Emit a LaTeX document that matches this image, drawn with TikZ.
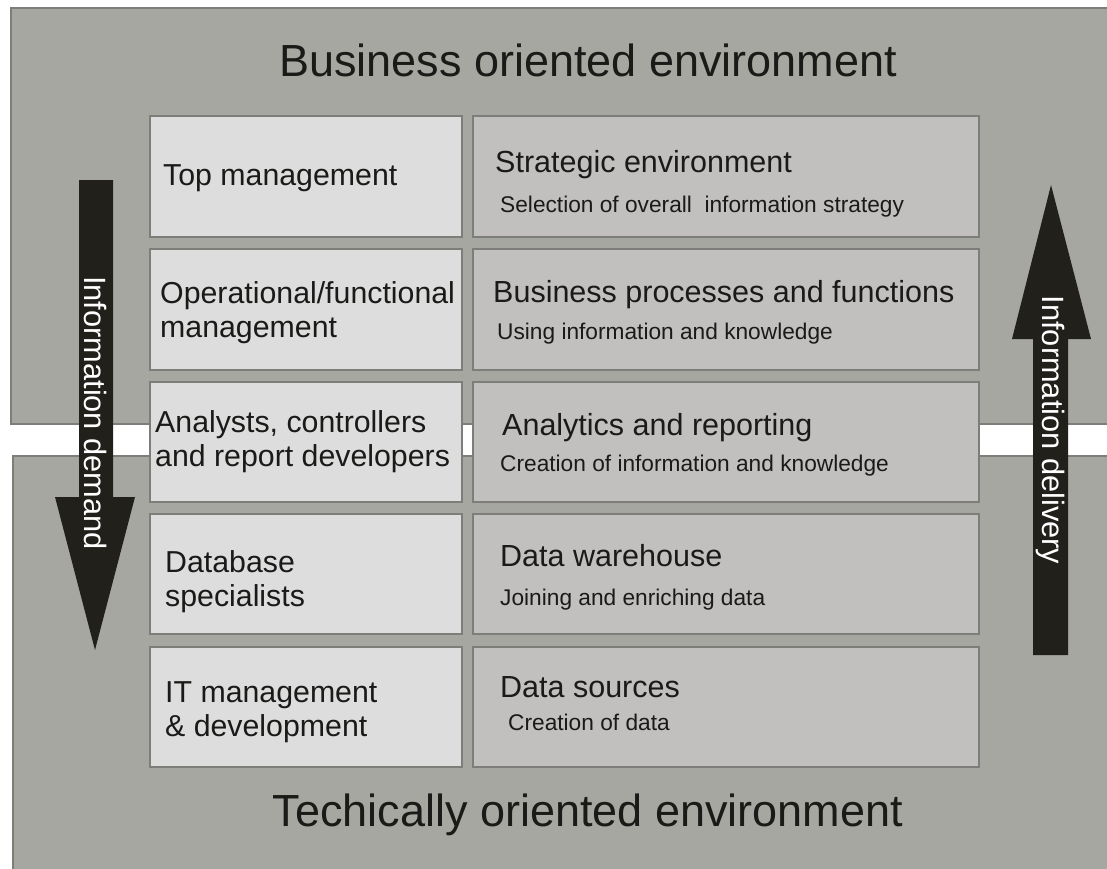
\documentclass[tikz,border=0pt]{standalone}
\usepackage{fontspec}
\setmainfont{Liberation Sans}
\definecolor{panelgrey}{RGB}{167,167,161}
\definecolor{leftbox}{RGB}{220,221,220}
\definecolor{rightbox}{RGB}{194,191,191}
\definecolor{arrowdark}{RGB}{34,32,26}
\definecolor{edgegrey}{RGB}{125,125,122}
\definecolor{textdark}{RGB}{26,26,24}
\tikzset{
  panel/.style={fill=panelgrey, draw=edgegrey, line width=1.2pt},
  lbox/.style={fill=leftbox, draw=edgegrey, line width=1.2pt},
  rbox/.style={fill=rightbox, draw=edgegrey, line width=1.2pt},
  bigarrow/.style={fill=arrowdark, draw=none},
  titletext/.style={font=\fontsize{45}{50}\selectfont, text=textdark, inner sep=0pt},
  roletext/.style={font=\fontsize{30.3}{34}\selectfont, text=textdark, align=left, anchor=base west, inner sep=0pt},
  headtext/.style={font=\fontsize{30.5}{34}\selectfont, text=textdark, anchor=base west, inner sep=0pt},
  subtext/.style={font=\fontsize{22.7}{26}\selectfont, text=textdark, anchor=base west, inner sep=0pt},
  arrowtext/.style={font=\fontsize{30.8}{34}\selectfont, text=white, rotate=-90, inner sep=0pt},
}
\begin{document}
\begin{tikzpicture}[x=1pt,y=-1pt]
\useasboundingbox (0,0) rectangle (1107,868);
% panels
\fill[white] (0,0) rectangle (1107,868);
\draw[panel] (11,8) rectangle (1120,424);
\draw[panel] (13,456) rectangle (1120,880);
% titles
\node[titletext, anchor=base] (toptitle) at (588,76) {Business oriented environment};
\node[titletext, anchor=base] (bottitle) at (588,826) {Techically oriented environment};
% arrows
\draw[bigarrow] (79,180) -- (113,180) -- (113,497) -- (135,497) -- (95,650) -- (55,497) -- (79,497) -- cycle;
\draw[bigarrow] (1033,655) -- (1068,655) -- (1068,339) -- (1091,339) -- (1051,185) -- (1012,339) -- (1033,339) -- cycle;
\node[arrowtext] (demand) at (96,413) {Information demand};
\node[arrowtext] (delivery) at (1050,430) {Information delivery};
% boxes
\draw[lbox] (150,116) rectangle (462,237);
\draw[rbox] (473,116) rectangle (979,237);
\draw[lbox] (150,249) rectangle (462,370);
\draw[rbox] (473,249) rectangle (979,370);
\draw[lbox] (150,382) rectangle (462,502);
\draw[rbox] (473,382) rectangle (979,502);
\draw[lbox] (150,514) rectangle (462,634);
\draw[rbox] (473,514) rectangle (979,634);
\draw[lbox] (150,647) rectangle (462,767);
\draw[rbox] (473,647) rectangle (979,767);
% row 1
\node[roletext] (top) at (163,185) {Top management};
\node[headtext] (strat) at (495,172) {Strategic environment};
\node[subtext] (stratsub) at (500,212) {Selection of overall\ \ information strategy};
% row 2 (anchor = baseline of last line)
\node[roletext] (oper) at (160,337) {Operational/functional\\management};
\node[headtext] (bpf) at (493,302) {Business processes and functions};
\node[subtext] (bpfsub) at (497,339) {Using information and knowledge};
% row 3
\node[roletext] (anal) at (155,466) {Analysts, controllers\\and report developers};
\node[headtext] (ar) at (502,435) {Analytics and reporting};
\node[subtext] (arsub) at (500,471) {Creation of information and knowledge};
% row 4
\node[roletext] (dbs) at (165,606) {Database\\specialists};
\node[headtext] (dw) at (500,566) {Data warehouse};
\node[subtext] (dwsub) at (500,605) {Joining and enriching data};
% row 5
\node[roletext] (itm) at (165,736) {IT management\\\& development};
\node[headtext] (ds) at (500,697) {Data sources};
\node[subtext] (dssub) at (508,730) {Creation of data};
\end{tikzpicture}
\end{document}
